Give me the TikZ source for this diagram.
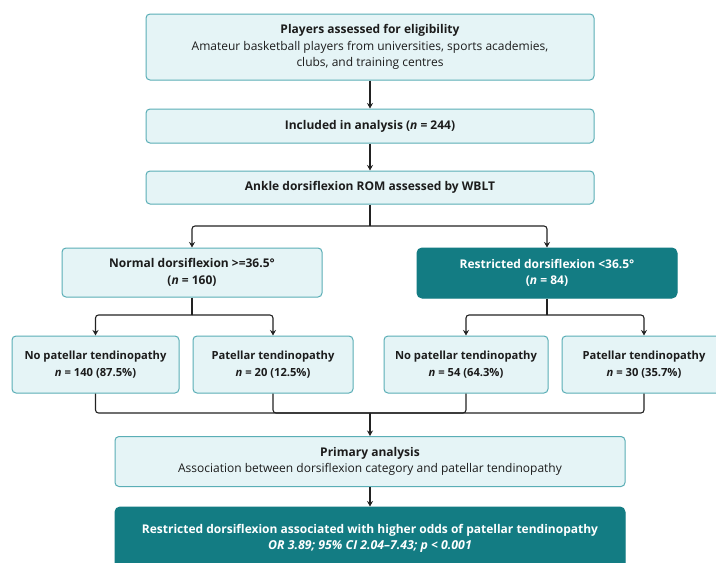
\documentclass[tikz,border=0pt]{standalone}
\usepackage{fontspec}
\setmainfont{Open Sans}
\usetikzlibrary{arrows.meta}
\definecolor{tealdark}{HTML}{137C83}
\definecolor{tealedge}{HTML}{5AAEB6}
\definecolor{lightfill}{HTML}{E5F4F6}
\definecolor{linec}{HTML}{222222}
\definecolor{txt}{HTML}{1C1C1C}
\begin{document}
\begin{tikzpicture}[x=1pt,y=-1pt,
  lbox/.style={draw=tealedge, fill=lightfill, rounded corners=4pt, line width=1pt,
    align=center, inner sep=0pt, text=txt, font=\fontsize{12}{16.5}\selectfont},
  dbox/.style={draw=tealdark, fill=tealdark, rounded corners=5pt, line width=1pt,
    align=center, inner sep=0pt, text=white, font=\fontsize{12}{16.5}\selectfont},
  cbox/.style={lbox, minimum height=57pt, font=\fontsize{11.2}{17}\selectfont},
  conn/.style={draw=linec, line width=1.1pt, rounded corners=3pt},
  arr/.style={conn, -{Stealth[length=5.5pt,width=6pt]}}]
\useasboundingbox (0,0) rectangle (716,563);
\clip (0,0) rectangle (716,563);
\fill[white] (0,0) rectangle (716,563);

\node[lbox, minimum width=448pt, minimum height=66pt] (elig) at (370,47)
  {\textbf{Players assessed for eligibility}\\Amateur basketball players from universities, sports academies,\\clubs, and training centres};
\node[lbox, minimum width=448pt, minimum height=34pt] (incl) at (370,126)
  {\textbf{Included in analysis (\textit{n} = 244)}};
\node[lbox, minimum width=448pt, minimum height=33pt] (wblt) at (370,187.5)
  {\textbf{Ankle dorsiflexion ROM assessed by WBLT}};

\node[lbox, minimum width=260pt, minimum height=49pt] (normal) at (192,272.5)
  {\textbf{Normal dorsiflexion >=36.5°}\\\textbf{(\textit{n} = 160)}};
\node[dbox, minimum width=260pt, minimum height=50pt] (restr) at (547,273)
  {\textbf{Restricted dorsiflexion <36.5°}\\\textbf{(\textit{n} = 84)}};

\node[cbox, minimum width=167pt] (npt1) at (95.5,364.5)
  {\textbf{No patellar tendinopathy}\\\textbf{\textit{n} = 140 (87.5\%)}};
\node[cbox, minimum width=160pt] (pt1) at (273,364.5)
  {\textbf{Patellar tendinopathy}\\\textbf{\textit{n} = 20 (12.5\%)}};
\node[cbox, minimum width=164pt] (npt2) at (466,364.5)
  {\textbf{No patellar tendinopathy}\\\textbf{\textit{n} = 54 (64.3\%)}};
\node[cbox, minimum width=164pt] (pt2) at (644,364.5)
  {\textbf{Patellar tendinopathy}\\\textbf{\textit{n} = 30 (35.7\%)}};

\node[lbox, minimum width=510pt, minimum height=50pt] (prim) at (370,461.5)
  {\textbf{Primary analysis}\\Association between dorsiflexion category and patellar tendinopathy};
\node[dbox, minimum width=510pt, minimum height=63pt] (final) at (370,538.5)
  {\fontsize{12}{20}\selectfont\textbf{Restricted dorsiflexion associated with higher odds of patellar tendinopathy}\\\fontsize{12.3}{20}\selectfont\textbf{\textit{OR 3.89; 95\% CI 2.04–7.43; p < 0.001}}};

\coordinate (s1) at (370,226);
\coordinate (s2) at (192,315);
\coordinate (s3) at (547,315);
\coordinate (m) at (370,413);

\draw[arr] (elig) -- (incl);
\draw[arr] (incl) -- (wblt);
\draw[conn] (wblt.south) -- (s1);
\draw[arr] (s1) -| (normal.north);
\draw[arr] (s1) -| (restr.north);
\draw[conn] (normal.south) -- (s2);
\draw[arr] (s2) -| (npt1.north);
\draw[arr] (s2) -| (pt1.north);
\draw[conn] (restr.south) -- (s3);
\draw[arr] (s3) -| (npt2.north);
\draw[arr] (s3) -| (pt2.north);
\draw[conn] (npt1.south) |- (m);
\draw[conn] (pt1.south) |- (m);
\draw[conn] (npt2.south) |- (m);
\draw[conn] (pt2.south) |- (m);
\draw[arr] (m) -- (prim.north);
\draw[arr] (prim) -- (final);
\end{tikzpicture}
\end{document}
